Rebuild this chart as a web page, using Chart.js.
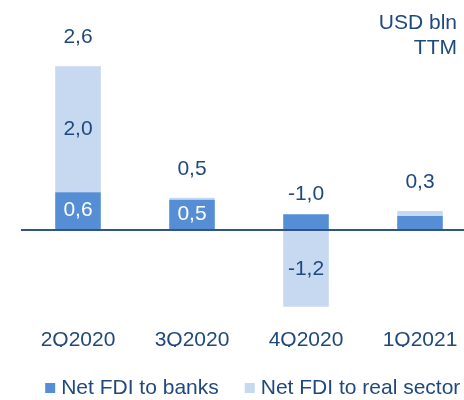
<!DOCTYPE html>
<html>
<head>
<meta charset="utf-8">
<script src="https://cdn.jsdelivr.net/npm/chart.js@4.4.1/dist/chart.umd.min.js"></script>
<style>
body{margin:0;background:#fff;overflow:hidden;}
#wrap{position:relative;width:510px;height:400px;}
</style>
</head>
<body>
<div id="wrap"><canvas id="fdiChart"></canvas></div>
<script>
//Data
var quarters = ["2Q2020","3Q2020","4Q2020","1Q2021"];
var banks = [0.6,0.48,0.25,0.22];
var realSector = [2.0,0.03,-1.22,0.08];
var seriesNames = ["Net FDI to banks","Net FDI to real sector"];
var unitLines = ["USD bln","TTM"];

var textColor = "#1F497D";
var font = "'Liberation Sans', Arial, sans-serif";

function fmt(v){ return v.toFixed(1).replace(".",","); }

//Labels plugin
var valueLabels = {
	id:'valueLabels',
	afterDatasetsDraw:function(chart){
		var ctx = chart.ctx;
		var y = chart.scales.y;
		ctx.save();
		ctx.font = "21px " + font;
		ctx.textAlign = "center";
		ctx.textBaseline = "middle";
		//segment labels
		chart.data.datasets.forEach(function(ds,di){
			var meta = chart.getDatasetMeta(di);
			meta.data.forEach(function(bar,i){
				var v = ds.data[i];
				if(Math.abs(v) < 0.4) return;
				ctx.fillStyle = di===0 ? "#ffffff" : textColor;
				ctx.fillText(fmt(v), bar.x, (bar.y + bar.base)/2);
			});
		});
		//totals
		ctx.fillStyle = textColor;
		quarters.forEach(function(q,i){
			var total = banks[i] + realSector[i];
			var pos = Math.max(banks[i],0) + Math.max(realSector[i],0);
			var x = chart.getDatasetMeta(0).data[i].x;
			var off = total < 0 ? 20 : 29;
			ctx.fillText(fmt(total), x, y.getPixelForValue(pos) - off);
		});
		//unit
		ctx.textAlign = "right";
		ctx.fillText(unitLines[0], 457, 23);
		ctx.fillText(unitLines[1], 457, 48);
		ctx.restore();
	}
};

new Chart(document.getElementById("fdiChart"),{
	type:'bar',
	data:{
		labels:quarters,
		datasets:[{
			label:seriesNames[0],
			data:banks,
			backgroundColor:"#558ED5",
			borderWidth:0
		},{
			label:seriesNames[1],
			data:realSector,
			backgroundColor:"#C6D9F1",
			borderWidth:0
		}]
	},
	options:{
		responsive:true,
		maintainAspectRatio:false,
		animation:false,
		layout:{padding:{left:0,right:0,top:19,bottom:-8.5}},
		datasets:{bar:{categoryPercentage:1,barPercentage:0.4}},
		plugins:{
			legend:{
				position:'bottom',
				labels:{
					usePointStyle:true,
					pointStyle:'rect',
					boxWidth:1,
					boxHeight:10,
					padding:30.5,
					color:textColor,
					font:{family:font,size:21}
				}
			},
			tooltip:{enabled:false}
		},
		scales:{
			x:{
				stacked:true,
				grid:{display:false,drawTicks:false},
				border:{display:false},
				ticks:{color:textColor,font:{family:font,size:21},padding:12.4},
				afterFit:function(s){ s.height = 32; }
			},
			y:{
				stacked:true,
				min:-1.35,
				max:3.35,
				ticks:{display:false,stepSize:1},
				border:{display:false},
				afterFit:function(s){ s.width = 21; },
				grid:{
					drawTicks:false,
					lineWidth:2,
					color:function(c){ return c.tick && c.tick.value===0 ? "#2F5487" : "transparent"; }
				}
			},
			yRight:{
				position:'right',
				ticks:{display:false},
				grid:{display:false},
				border:{display:false},
				afterFit:function(s){ s.width = 33; }
			}
		}
	},
	plugins:[valueLabels]
});
</script>
</body>
</html>
